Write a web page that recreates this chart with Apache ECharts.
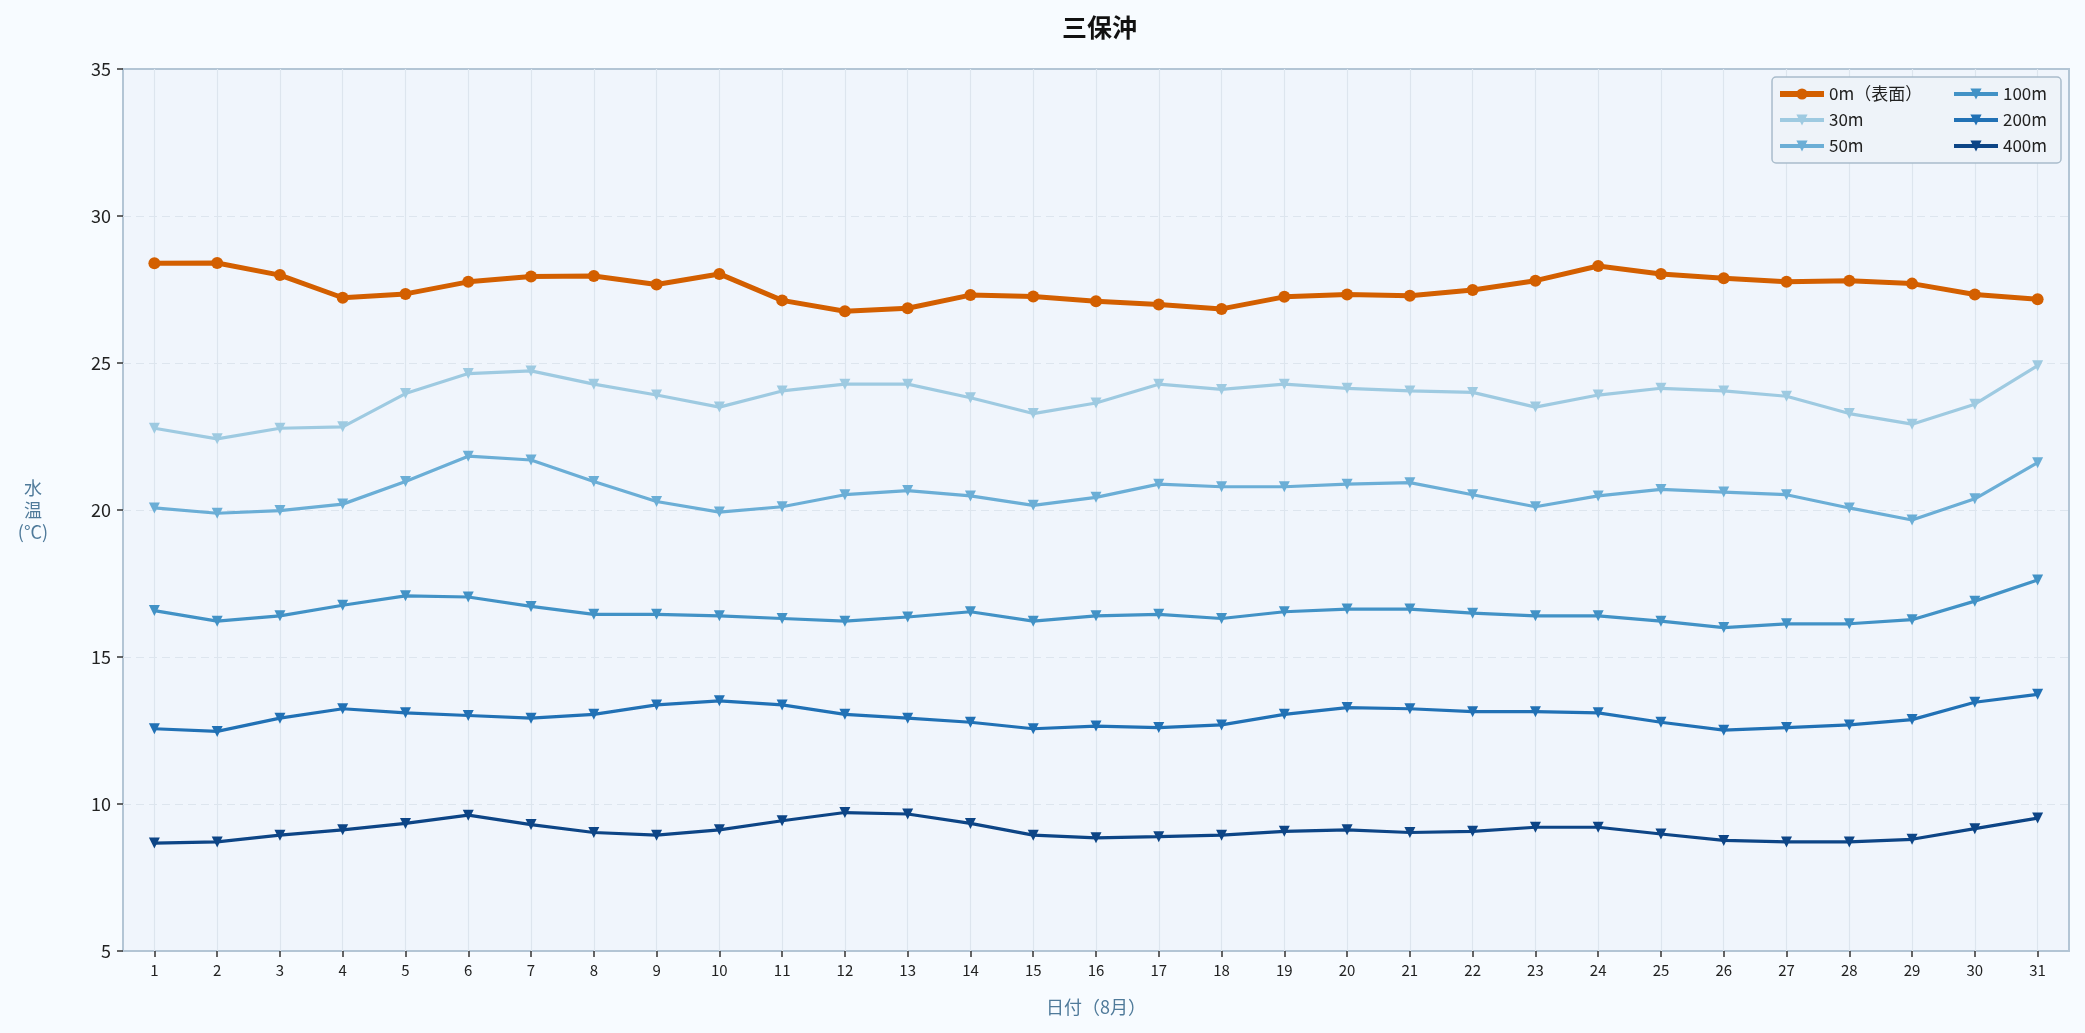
<!DOCTYPE html>
<html>
<head>
<meta charset="utf-8">
<script src="https://cdn.jsdelivr.net/npm/echarts@6/dist/echarts.min.js"></script>
<style>
html, body { margin: 0; padding: 0; background: #f7fbff; }
#main { width: 2085px; height: 1033px; }
</style>
</head>
<body>
<div id="main"></div>
<script>
// 日付（8月）
var days = [];
for (var d = 1; d <= 31; d++) days.push(String(d));

var names = ['0m（表面）', '30m', '50m', '100m', '200m', '400m'];

var t0 = [28.39, 28.4, 27.99, 27.22, 27.35, 27.76, 27.94, 27.96, 27.67, 28.03, 27.13, 26.76, 26.86, 27.31, 27.26, 27.1,
	26.99, 26.84, 27.25, 27.33, 27.29, 27.48, 27.8, 28.3, 28.03, 27.88, 27.76, 27.8, 27.7, 27.33, 27.17];
var t30 = [22.78, 22.42, 22.78, 22.83, 23.96, 24.64, 24.73, 24.28, 23.91, 23.5, 24.05, 24.28, 24.28, 23.82, 23.28, 23.64,
	24.28, 24.1, 24.28, 24.14, 24.05, 24.0, 23.5, 23.91, 24.14, 24.05, 23.87, 23.28, 22.92, 23.6, 24.91];
var t50 = [20.07, 19.89, 19.98, 20.2, 20.97, 21.83, 21.7, 20.97, 20.29, 19.93, 20.11, 20.52, 20.66, 20.48, 20.16, 20.43,
	20.88, 20.79, 20.79, 20.88, 20.93, 20.52, 20.11, 20.48, 20.7, 20.61, 20.52, 20.07, 19.66, 20.38, 21.61];
var t100 = [16.58, 16.22, 16.4, 16.76, 17.08, 17.04, 16.72, 16.45, 16.45, 16.4, 16.31, 16.22, 16.36, 16.54, 16.22, 16.4,
	16.45, 16.31, 16.54, 16.63, 16.63, 16.49, 16.4, 16.4, 16.22, 16.0, 16.13, 16.13, 16.27, 16.9, 17.62];
var t200 = [12.56, 12.47, 12.92, 13.24, 13.1, 13.01, 12.92, 13.05, 13.37, 13.51, 13.37, 13.05, 12.92, 12.78, 12.56, 12.65,
	12.6, 12.69, 13.05, 13.28, 13.24, 13.14, 13.14, 13.1, 12.78, 12.51, 12.6, 12.69, 12.87, 13.46, 13.73];
var t400 = [8.67, 8.71, 8.94, 9.12, 9.34, 9.62, 9.3, 9.03, 8.94, 9.12, 9.43, 9.71, 9.66, 9.34, 8.94, 8.85,
	8.89, 8.94, 9.07, 9.12, 9.03, 9.07, 9.21, 9.21, 8.98, 8.76, 8.71, 8.71, 8.8, 9.16, 9.52];

var colors = ['#d35f00', '#9ecae1', '#6baed6', '#4292c6', '#2171b5', '#0d4586'];
var values = [t0, t30, t50, t100, t200, t400];

var FONT = '"Noto Sans CJK JP", "Noto Sans", sans-serif';

var series = values.map(function(v, i) {
	var surface = i === 0;
	return {
		name: names[i],
		type: 'line',
		data: v,
		symbol: surface ? 'circle' : 'triangle',
		symbolRotate: surface ? 0 : 180,
		symbolSize: surface ? 12 : 11,
		lineStyle: { width: surface ? 5 : 3.2, color: colors[i] },
		itemStyle: { color: colors[i] },
		z: surface ? 10 : 5
	};
});

// 凡例の項目（線の太さを系列に合わせる）
var legendItems = names.map(function(n, i) {
	return { name: n, lineStyle: { width: i === 0 ? 6 : 4 } };
});

var legendCommon = {
	orient: 'vertical',
	top: 84,
	itemWidth: 44,
	itemHeight: 14,
	itemGap: 6,
	padding: 0,
	textStyle: { fontFamily: FONT, fontSize: 17, color: '#222', lineHeight: 20 }
};

var myChart = echarts.init(document.getElementById('main'));

var option = {
	backgroundColor: '#f7fbff',
	color: colors,
	animation: false,
	title: {
		text: '三保沖',
		left: 1057,
		top: 10,
		textStyle: { fontFamily: FONT, fontSize: 25, fontWeight: 'bold', color: '#111' }
	},
	graphic: [{
		type: 'rect',
		shape: { x: 1772, y: 77, width: 289, height: 86, r: 4 },
		style: { fill: '#eef3f9', stroke: '#a9bccb', lineWidth: 1.5 },
		z: 90
	}],
	legend: [
		Object.assign({}, legendCommon, { left: 1777, data: legendItems.slice(0, 3), z: 100 }),
		Object.assign({}, legendCommon, { left: 1952, data: legendItems.slice(3), z: 100 })
	],
	grid: {
		left: 123,
		right: 16,
		top: 69,
		bottom: 82,
		show: true,
		backgroundColor: '#f0f5fc',
		borderColor: '#b3c5d5',
		borderWidth: 2
	},
	xAxis: {
		type: 'category',
		data: days,
		boundaryGap: true,
		name: '日付（8月）',
		nameLocation: 'middle',
		nameGap: 47,
		nameTextStyle: { fontFamily: FONT, fontSize: 18, color: '#4f7a9a' },
		axisLine: { show: false },
		axisTick: { show: true, alignWithLabel: true, length: 6, lineStyle: { color: '#333', width: 1.5 } },
		axisLabel: { fontFamily: FONT, fontSize: 15, color: '#222', margin: 12 },
		splitLine: { show: true, alignWithLabel: true, lineStyle: { color: '#dde5ee', width: 1.2 } }
	},
	yAxis: {
		type: 'value',
		min: 5,
		max: 35,
		interval: 5,
		name: '水\n温\n(°C)',
		nameLocation: 'middle',
		nameRotate: 0,
		nameGap: 90,
		nameTextStyle: { fontFamily: FONT, fontSize: 18, color: '#4f7a9a', lineHeight: 22, align: 'center' },
		axisLine: { show: false },
		axisTick: { show: true, length: 6, lineStyle: { color: '#333', width: 1.5 } },
		axisLabel: { fontFamily: FONT, fontSize: 18, color: '#222', margin: 12 },
		splitLine: { show: true, showMinLine: false, showMaxLine: false, lineStyle: { color: '#dde5ee', type: [8, 5], width: 1.2 } }
	},
	series: series
};

myChart.setOption(option);
</script>
</body>
</html>
